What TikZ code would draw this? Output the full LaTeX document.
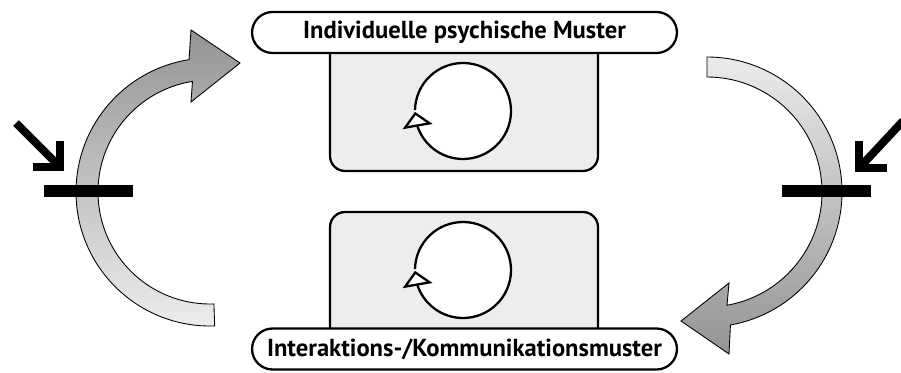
\documentclass[tikz,border=0pt]{standalone}
\usepackage{fontspec}
\setmainfont{PT Sans}
\usetikzlibrary{arrows.meta,bending,positioning}

\begin{document}
\begin{tikzpicture}[
  x=0.02cm, y=-0.02cm,
  every node/.style={font=\bfseries\fontsize{14}{16}\selectfont},
  pill/.style={draw=black, line width=1.3pt, fill=white, rounded corners=0.41cm, minimum width=8.5cm, minimum height=0.82cm, inner sep=0pt},
  panel/.style={draw=black, line width=1.3pt, fill=black!7, rounded corners=0.3cm, minimum width=5.36cm, inner sep=0pt},
  cycleline/.style={line width=1.3pt, -{Triangle[fill=white, length=0.3cm, width=0.6cm]}},
  bigarrow/.style={draw=black, line width=0.5pt},
  blocker/.style={fill=black},
  push/.style={line width=0.16cm, line join=miter}
]
  \useasboundingbox (0,0) rectangle (901,372);
  % feedback arrows
  \coordinate (leftc) at (210,192);
  \coordinate (rightc) at (707,192);
  \shade[bigarrow, top color=black!42, bottom color=black!7]
    ([shift={(88:134)}]leftc) arc[start angle=88, end angle=261, radius=134]
    -- (191,30) -- (240,63) -- (191,102)
    -- ([shift={(261:112)}]leftc) arc[start angle=261, end angle=88, radius=112] -- cycle;
  \shade[bigarrow, top color=black!8, bottom color=black!42]
    ([shift={(-90:135)}]rightc) arc[start angle=-90, end angle=80, radius=135]
    -- (729,354) -- (681,321) -- (729,283)
    -- ([shift={(80:115)}]rightc) arc[start angle=80, end angle=-90, radius=115] -- cycle;
  % blocking bars and pushes
  \fill[blocker] (44,185) rectangle (133,197);
  \fill[blocker] (782,185) rectangle (871,197);
  \draw[push] (16,123) -- (58,165);
  \draw[push] (33,167) -- (60,167) -- (60,141);
  \draw[push] (903,121) -- (861,166);
  \draw[push] (887,168) -- (859,168) -- (859,141);
  % pattern panels
  \node[panel, minimum height=2.82cm] (toppanel) at (464,100.5) {};
  \node[panel, minimum height=2.76cm] (botpanel) at (464,281) {};
  \node[pill] (indiv) at (464.5,32.5) {Individuelle psychische Muster};
  \node[pill] (interakt) at (464.5,349) {Interaktions-/Kommunikationsmuster};
  % circular loops
  \coordinate (toploop) at (463,111);
  \coordinate (botloop) at (463,270);
  \foreach \c in {toploop,botloop} {
    \fill[white] (\c) circle[radius=48];
    \draw[cycleline] ([shift={(181:48)}]\c) arc[start angle=181, end angle=539, radius=48];
  }
\end{tikzpicture}
\end{document}
